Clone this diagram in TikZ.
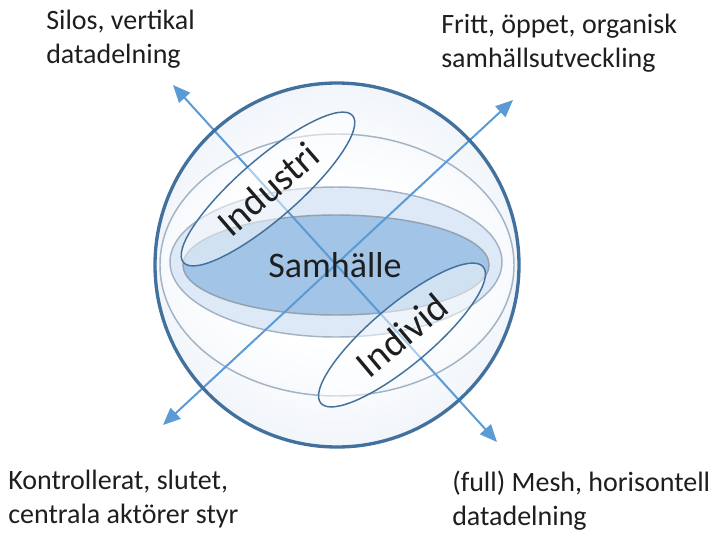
\documentclass[tikz,border=0pt]{standalone}
\usepackage{fontspec}
\setmainfont{Carlito}
\usetikzlibrary{arrows.meta,shapes.geometric}
\definecolor{rim}{HTML}{41719C}
\definecolor{axis}{HTML}{5B9BD5}
\definecolor{band}{HTML}{A3B3C4}
\definecolor{core}{HTML}{A2C4E6}
\definecolor{ring}{HTML}{DDE9F6}
\definecolor{halo}{HTML}{E3ECF7}
\definecolor{globe}{HTML}{D8E3F0}
\definecolor{ink}{HTML}{1E1E1E}
\pgfdeclareradialshading{sphere}{\pgfpoint{0bp}{0bp}}{color(0bp)=(white); color(12bp)=(white); color(50bp)=(globe); color(100bp)=(globe)}
\pgfdeclareradialshading{flatband}{\pgfpoint{0bp}{0bp}}{color(0bp)=(white); color(15bp)=(white); color(50bp)=(halo); color(100bp)=(halo)}
\newcommand{\lbl}{\fontsize{21}{25.5}\selectfont}
\newcommand{\midtxt}{\fontsize{27}{32}\selectfont}
\newcommand{\petaltxt}{\fontsize{29}{34}\selectfont}

\begin{document}
\begin{tikzpicture}[x=0.75pt,y=-0.75pt,text=ink,
   axisline/.style={draw=axis,line width=1.5pt,
      {Triangle[length=13pt,width=11pt]}-{Triangle[length=13pt,width=11pt]}},
   bandline/.style={draw=band,line width=1.1pt},
   petal/.style={ellipse,draw=rim,line width=1.1pt,fill=white,fill opacity=0.5,
      text opacity=1,inner sep=0pt,minimum height=45pt,font=\petaltxt},
   corner/.style={anchor=base west,align=left,inner sep=0pt,font=\lbl}]
   \useasboundingbox (0,0) rectangle (722,533);
   \coordinate (c) at (337,265);
   % sphere and its bands
   \shade[shading=sphere] (c) circle (182);
   \shade[shading=flatband,draw=band,line width=1.1pt] (c) ellipse[x radius=177,y radius=131];
   \filldraw[bandline,fill=ring] (336,262) ellipse[x radius=166,y radius=75];
   \filldraw[bandline,draw=band!90!black,fill=core] (336,265) ellipse[x radius=153,y radius=50];
   % axes
   \coordinate (nw) at (173,85);
   \coordinate (se) at (497,442);
   \coordinate (sw) at (163,425);
   \coordinate (ne) at (513,100);
   \draw[axisline] (nw) -- (se);
   \draw[axisline] (sw) -- (ne);
   % petals
   \node[petal,rotate=41,minimum width=168pt] (industri) at (268,189) {Industri};
   \node[petal,rotate=40,minimum width=159pt] (individ) at (402,335) {Individ};
   \draw[draw=rim,line width=2.5pt] (c) circle (182);
   \node[anchor=base,font=\midtxt] (samhalle) at (335,277) {Samhälle};
   % corner labels
   \node[corner] (silos) at (46,63) {Silos, vertikal\\datadelning};
   \node[corner] (fritt) at (441,67) {Fritt, öppet, organisk\\samhällsutveckling};
   \node[corner] (kontroll) at (8,523) {Kontrollerat, slutet,\\centrala aktörer styr};
   \node[corner] (mesh) at (452,525) {(full) Mesh, horisontell\\datadelning};
\end{tikzpicture}
\end{document}
